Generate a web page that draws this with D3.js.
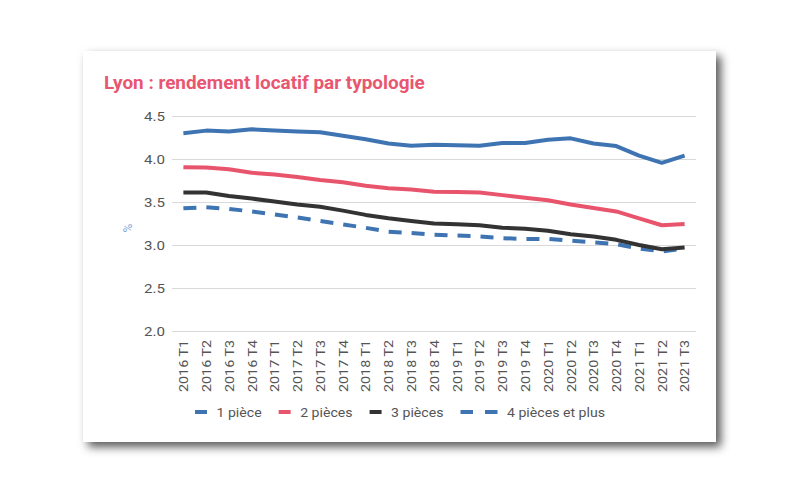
<!DOCTYPE html>
<html>
<head>
<meta charset="utf-8">
<script src="https://cdn.jsdelivr.net/npm/d3@7"></script>
<style>
  html, body { margin: 0; padding: 0; background: #ffffff; }
  svg { display: block; }
  text { font-family: Roboto, "Noto Sans", sans-serif; }
</style>
</head>
<body>
<svg id="chart" width="800" height="495"></svg>
<script>
// ---------------- data ----------------
const categories = [
  "2016 T1","2016 T2","2016 T3","2016 T4",
  "2017 T1","2017 T2","2017 T3","2017 T4",
  "2018 T1","2018 T2","2018 T3","2018 T4",
  "2019 T1","2019 T2","2019 T3","2019 T4",
  "2020 T1","2020 T2","2020 T3","2020 T4",
  "2021 T1","2021 T2","2021 T3"
];
const seriesNames = ["1 pièce", "2 pièces", "3 pièces", "4 pièces et plus"];
const onePiece = [4.30,4.33,4.32,4.345,4.33,4.32,4.31,4.27,4.23,4.18,4.155,4.165,4.16,4.155,4.185,4.185,4.225,4.24,4.18,4.15,4.04,3.955,4.04];
const twoPieces = [3.905,3.90,3.88,3.84,3.82,3.79,3.755,3.73,3.69,3.66,3.645,3.62,3.615,3.61,3.58,3.55,3.52,3.47,3.43,3.39,3.31,3.23,3.245];
const threePieces = [3.61,3.61,3.57,3.54,3.505,3.47,3.445,3.40,3.35,3.31,3.28,3.25,3.24,3.23,3.20,3.19,3.165,3.125,3.10,3.06,3.00,2.95,2.97];
const fourPlus = [3.427,3.44,3.42,3.39,3.355,3.32,3.28,3.24,3.20,3.155,3.14,3.12,3.11,3.10,3.08,3.07,3.07,3.05,3.03,3.01,2.96,2.925,2.96];
const yTicks = [2.0, 2.5, 3.0, 3.5, 4.0, 4.5];
const titleText = "Lyon : rendement locatif par typologie";
const yAxisLabel = "%";

// ---------------- styles ----------------
const colors = ["#3f74b3", "#e9546d", "#333333", "#3f74b3"];
const dashes = [null, null, null, "13,10"];
const gridColor = "#d9d9d9";
const textColor = "#555555";

const svg = d3.select("#chart");

// card with shadow
const defs = svg.append("defs");
const f = defs.append("filter").attr("id", "shadow")
  .attr("x", "-10%").attr("y", "-10%").attr("width", "125%").attr("height", "125%");
f.append("feDropShadow").attr("dx", 5).attr("dy", 5).attr("stdDeviation", 5)
  .attr("flood-color", "#000").attr("flood-opacity", 0.65);
svg.append("rect").attr("x", 83).attr("y", 51).attr("width", 633).attr("height", 391)
  .attr("fill", "#fff").attr("filter", "url(#shadow)");

// helper: horizontally stretch text so a reference string reaches target width
function stretchFactor(str, size, weight, target) {
  const t = svg.append("text").attr("font-size", size).attr("font-weight", weight).text(str);
  const w = t.node().getComputedTextLength();
  t.remove();
  return target / w;
}

// scales
const x = d3.scalePoint().domain(categories).range([172, 696]).padding(0.5);
const y = d3.scaleLinear().domain([2, 4.5]).range([331, 116]);

// title
const kTitle = stretchFactor(titleText, 19, "bold", 321);
svg.append("text")
  .attr("transform", `translate(104,89) scale(${kTitle},1)`)
  .attr("font-size", 19).attr("font-weight", "bold").attr("fill", "#e8566f")
  .text(titleText);

// y axis + gridlines
const kTick = stretchFactor("4.5", 12.5, "normal", 21);
const yAxis = d3.axisLeft(y).tickValues(yTicks).tickFormat(d3.format(".1f"))
  .tickSize(-(696 - 172)).tickPadding(7);
const gy = svg.append("g").attr("transform", "translate(172,0)").call(yAxis);
gy.select(".domain").remove();
gy.selectAll(".tick line").attr("stroke", gridColor).attr("stroke-width", 1);
gy.selectAll(".tick text")
  .attr("fill", textColor).attr("font-size", 12.5)
  .attr("font-family", "Roboto, sans-serif")
  .each(function() {
    const t = d3.select(this);
    const xx = +t.attr("x");
    t.attr("x", null).attr("transform", `translate(${xx},0) scale(${kTick},1)`);
  });

// y label
svg.append("text")
  .attr("transform", "translate(128,228) rotate(-90)")
  .attr("text-anchor", "middle").attr("dy", "0.35em")
  .attr("font-size", 12).attr("fill", "#7ea5d5")
  .text(yAxisLabel);

// x axis labels
const kX = stretchFactor("2016 T1", 12, "normal", 52);
const xAxis = d3.axisBottom(x).tickSize(0).tickPadding(0);
const gx = svg.append("g").attr("transform", "translate(0,331)").call(xAxis);
gx.select(".domain").remove();
gx.selectAll(".tick text")
  .attr("fill", textColor).attr("font-size", 12)
  .attr("font-family", "Roboto, sans-serif")
  .attr("text-anchor", "end").attr("y", null).attr("dy", "0.36em")
  .attr("transform", `translate(0,9) rotate(-90) scale(${kX},1)`);

// lines
const allSeries = [onePiece, twoPieces, threePieces, fourPlus];
const line = d3.line().x((d, i) => x(categories[i])).y(d => y(d));
const drawOrder = [0, 1, 3, 2];
drawOrder.forEach(si => {
  svg.append("path")
    .datum(allSeries[si])
    .attr("fill", "none")
    .attr("stroke", colors[si])
    .attr("stroke-width", 4)
    .attr("stroke-linejoin", "round")
    .attr("stroke-dasharray", dashes[si])
    .attr("d", line);
});

// legend
const kLeg = stretchFactor("4 pièces et plus", 12.5, "normal", 98);
let lx = 195;
const ly = 412;
seriesNames.forEach((name, i) => {
  const g = svg.append("g");
  const swLen = dashes[i] ? 37 : 12;
  g.append("line")
    .attr("x1", lx).attr("x2", lx + swLen).attr("y1", ly).attr("y2", ly)
    .attr("stroke", colors[i]).attr("stroke-width", 4)
    .attr("stroke-dasharray", dashes[i] ? "12.5,12" : null);
  const tx = lx + swLen + 9.5;
  const t = g.append("text")
    .attr("transform", `translate(${tx},${ly}) scale(${kLeg},1)`)
    .attr("dy", "0.36em").attr("font-size", 12.5).attr("fill", textColor)
    .text(name);
  const w = t.node().getComputedTextLength() * kLeg;
  lx = tx + w + 17;
});
</script>
</body>
</html>
